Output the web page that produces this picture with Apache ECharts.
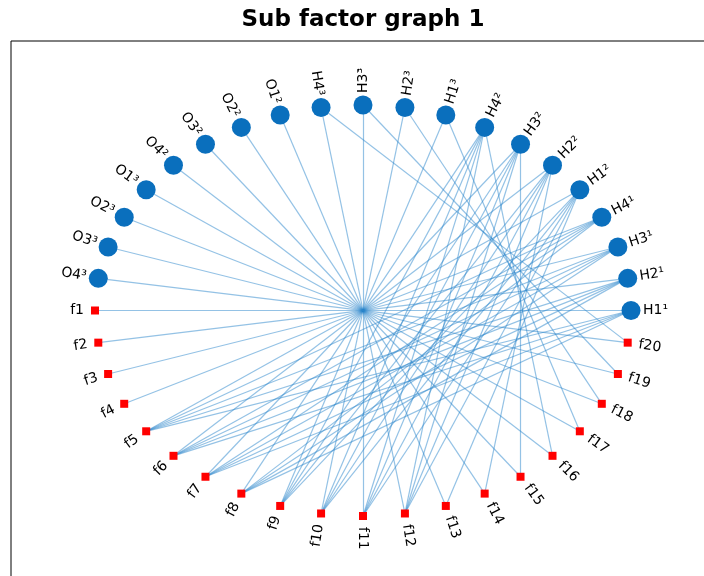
<!DOCTYPE html>
<html><head><meta charset="utf-8">
<script src="https://cdn.jsdelivr.net/npm/echarts@6/dist/echarts.min.js"></script>
<style>html,body{margin:0;padding:0;background:#fff}#c{width:704px;height:576px}</style>
</head><body><div id="c"></div>
<script>
const chartTitle = 'Sub factor graph 1';
const variables = ['H1¹','H2¹','H3¹','H4¹','H1²','H2²','H3²','H4²','H1³','H2³','H3³','H4³',
                   'O1²','O2²','O3²','O4²','O1³','O2³','O3³','O4³'];
const factors = ['f1','f2','f3','f4','f5','f6','f7','f8','f9','f10',
                 'f11','f12','f13','f14','f15','f16','f17','f18','f19','f20'];
const factorScopes = [
  ['H1¹'], ['H2¹'], ['H3¹'], ['H4¹'],
  ['H1²','H1¹','H2¹','H3¹','H4¹'],
  ['H2²','H1¹','H2¹','H3¹','H4¹'],
  ['H3²','H1¹','H2¹','H3¹','H4¹'],
  ['H4²','H1¹','H2¹','H3¹','H4¹'],
  ['H1³','H1²','H2²','H3²','H4²'],
  ['H2³','H1²','H2²','H3²','H4²'],
  ['H3³','H1²','H2²','H3²','H4²'],
  ['H4³','H1²','H2²','H3²','H4²'],
  ['O1²','H1²'], ['O2²','H2²'], ['O3²','H3²'], ['O4²','H4²'],
  ['O1³','H1³'], ['O2³','H2³'], ['O3³','H3³'], ['O4³','H4³']
];

const nodeNames = variables.concat(factors);
const N = nodeNames.length;
const nodes = nodeNames.map((name, i) => {
  const deg = i * 360 / N;
  const rad = deg * Math.PI / 180;
  const isVar = i < variables.length;
  const right = deg <= 90 || deg >= 270;
  const rot = right ? (deg > 180 ? deg - 360 : deg) : deg - 180;
  const pad = isVar ? 12 : 11;
  return {
    name: name,
    value: [Math.cos(rad), Math.sin(rad)],
    symbol: isVar ? 'circle' : 'rect',
    symbolSize: isVar ? 19 : 8,
    itemStyle: { color: isVar ? '#0a6fbd' : '#ff0000' },
    label: {
      show: true,
      position: 'inside',
      rotate: rot,
      align: right ? 'left' : 'right',
      verticalAlign: 'middle',
      padding: right ? [0, 0, 0, pad] : [0, pad, 0, 0]
    }
  };
});
const links = [];
factors.forEach((f, k) => {
  factorScopes[k].forEach(v => links.push({ source: f, target: v }));
});

const chart = echarts.init(document.getElementById('c'), null, { renderer: 'canvas' });
chart.setOption({
  animation: false,
  backgroundColor: '#fff',
  title: {
    text: chartTitle,
    left: 363, top: 9, padding: 0,
    textAlign: 'center',
    textStyle: { fontFamily: 'DejaVu Sans', fontWeight: 'bold', fontSize: 23, color: '#000' }
  },
  grid: { left: 11, top: 41, width: 704, height: 539, show: true,
          outerBoundsMode: 'none', containLabel: false,
          borderColor: '#000', borderWidth: 1, backgroundColor: 'transparent' },
  xAxis: { type: 'value', min: -1.3134, max: 1.3134, show: false },
  yAxis: { type: 'value', min: -1.3114, max: 1.3114, show: false },
  series: [{
    type: 'graph',
    coordinateSystem: 'cartesian2d',
    layout: 'none',
    data: nodes,
    links: links,
    silent: true,
    label: { fontFamily: 'DejaVu Sans', fontSize: 14, color: '#000' },
    lineStyle: { color: '#2a86cc', opacity: 0.5, width: 1.2, curveness: 0 },
    emphasis: { disabled: true }
  }]
});
</script></body></html>
